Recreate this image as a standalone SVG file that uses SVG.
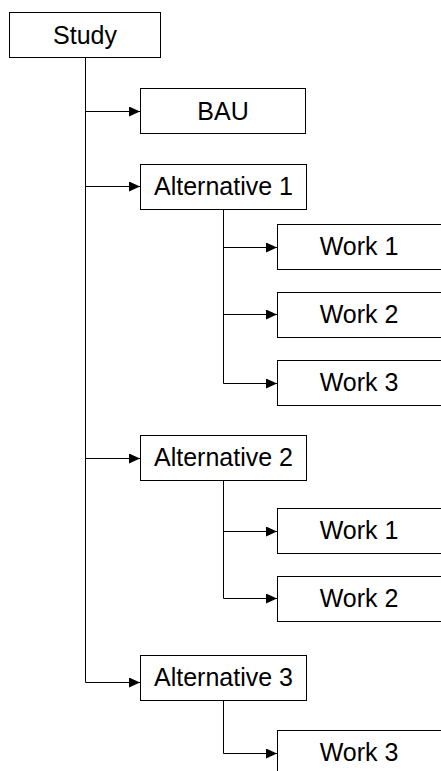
<svg xmlns="http://www.w3.org/2000/svg" width="441" height="771" viewBox="0 0 441 771">
<style>
.box{fill:#fff;stroke:#000;stroke-width:1}
.lbl{font-family:"Liberation Sans",Arial,sans-serif;font-size:25px;fill:#000;text-anchor:middle}
.ln{fill:none;stroke:#000;stroke-width:1}
</style>
<defs>
<marker id="ah" markerWidth="11" markerHeight="10" refX="11" refY="5" orient="auto" markerUnits="userSpaceOnUse">
<path d="M0,0 L11,5 L0,10 Z" fill="#000"/>
</marker>
</defs>
<rect width="441" height="771" fill="#fff"/>
<g id="connectors">
<path class="ln" d="M85.5,58 V682.5"/>
<path class="ln" d="M85.5,111.5 H140" marker-end="url(#ah)"/>
<path class="ln" d="M85.5,186.5 H140" marker-end="url(#ah)"/>
<path class="ln" d="M85.5,458.5 H140" marker-end="url(#ah)"/>
<path class="ln" d="M85.5,682.5 H140" marker-end="url(#ah)"/>
<path class="ln" d="M223.5,209 V383.5"/>
<path class="ln" d="M223.5,247.5 H277" marker-end="url(#ah)"/>
<path class="ln" d="M223.5,314.5 H277" marker-end="url(#ah)"/>
<path class="ln" d="M223.5,383.5 H277" marker-end="url(#ah)"/>
<path class="ln" d="M223.5,481 V598.5"/>
<path class="ln" d="M223.5,531.5 H277" marker-end="url(#ah)"/>
<path class="ln" d="M223.5,598.5 H277" marker-end="url(#ah)"/>
<path class="ln" d="M223.5,700 V753.5 H277" marker-end="url(#ah)"/>
</g>
<g id="study"><rect class="box" x="9.5" y="12.5" width="151" height="45"/><text class="lbl" x="85" y="43.5">Study</text></g>
<g id="bau"><rect class="box" x="140.5" y="88.5" width="165" height="45"/><text class="lbl" x="223" y="119.5">BAU</text></g>
<g id="alt1"><rect class="box" x="140.5" y="164.5" width="166" height="45"/><text class="lbl" x="223.5" y="194.5">Alternative 1</text></g>
<g id="alt1-work1"><rect class="box" x="277.5" y="224.5" width="165" height="45"/><text class="lbl" x="359" y="254.5">Work 1</text></g>
<g id="alt1-work2"><rect class="box" x="277.5" y="292.5" width="165" height="45"/><text class="lbl" x="359" y="322.5">Work 2</text></g>
<g id="alt1-work3"><rect class="box" x="277.5" y="360.5" width="165" height="45"/><text class="lbl" x="359" y="390.5">Work 3</text></g>
<g id="alt2"><rect class="box" x="140.5" y="435.5" width="166" height="45"/><text class="lbl" x="223.5" y="466">Alternative 2</text></g>
<g id="alt2-work1"><rect class="box" x="277.5" y="508.5" width="165" height="45"/><text class="lbl" x="359" y="539">Work 1</text></g>
<g id="alt2-work2"><rect class="box" x="277.5" y="576.5" width="165" height="45"/><text class="lbl" x="359" y="607">Work 2</text></g>
<g id="alt3"><rect class="box" x="140.5" y="655.5" width="166" height="45"/><text class="lbl" x="223.5" y="686">Alternative 3</text></g>
<g id="alt3-work3"><rect class="box" x="277.5" y="730.5" width="165" height="45"/><text class="lbl" x="359" y="761">Work 3</text></g>
</svg>
